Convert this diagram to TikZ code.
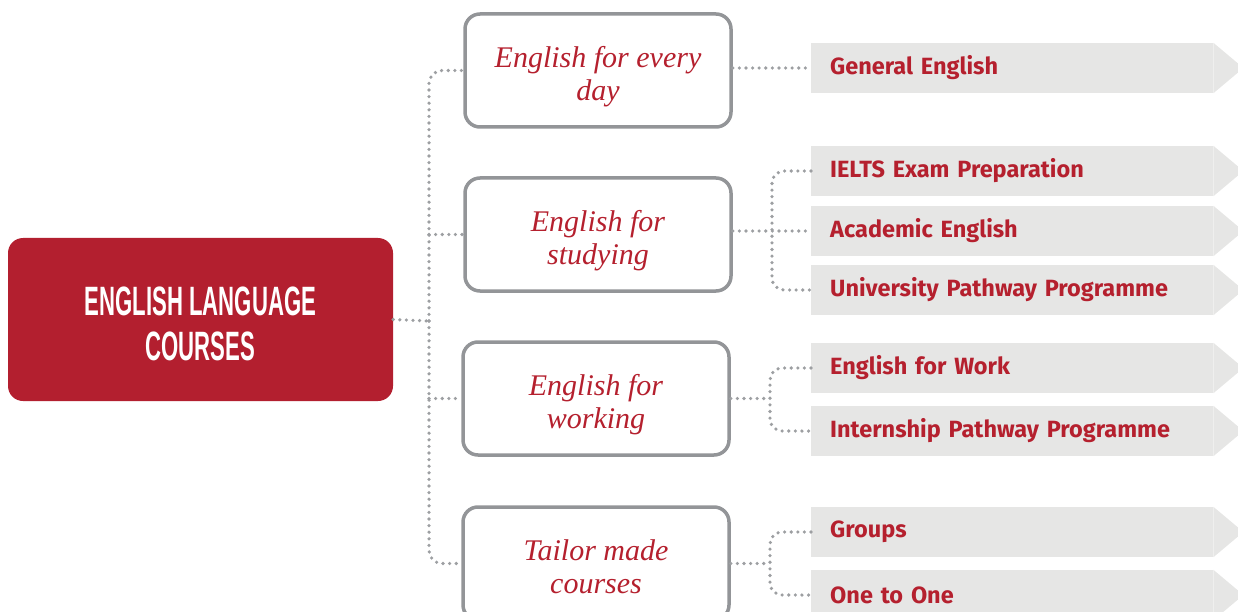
\documentclass[tikz,border=0pt]{standalone}
\usepackage{fontspec}
\usetikzlibrary{calc}
\newfontfamily\condfont[FakeStretch=0.54]{Liberation Sans}
\newfontfamily\tagfont{Fira Sans}
\newfontfamily\boxfont{Liberation Serif}
\definecolor{mainred}{HTML}{B31F2F}
\definecolor{textred}{HTML}{B5202E}
\definecolor{boxgray}{HTML}{939598}
\definecolor{dotgray}{HTML}{9D9FA2}
\definecolor{tagfill}{HTML}{E6E6E5}
\newcommand\twoline[3]{\begin{tabular}{@{}c@{}}\rule{0pt}{#1}#2\\#3\end{tabular}}
\tikzset{
  mainbox/.style={fill=mainred, rounded corners=15pt, minimum width=385pt, minimum height=163pt,
    text=white, font=\condfont\bfseries\fontsize{41}{45}\selectfont, inner sep=0pt},
  midbox/.style={draw=boxgray, line width=3.5pt, rounded corners=15pt, fill=white,
    minimum width=266pt, minimum height=113pt, text=textred,
    font=\boxfont\itshape\fontsize{30}{33}\selectfont, inner sep=0pt},
  tagbox/.style={anchor=west, fill=tagfill, minimum height=50pt, text width=364pt,
    inner xsep=19pt, inner ysep=0pt, align=left, text=textred,
    font=\tagfont\bfseries\fontsize{23.5}{26}\selectfont},
  dotline/.style={draw=dotgray, line width=3.6pt, line cap=round, dash pattern=on 0pt off 6.6pt},
}
\begin{document}
\begin{tikzpicture}[x=1pt,y=-1pt]
\useasboundingbox (0,0) rectangle (1238,612);
% main
\node[mainbox] (main) at (200.5,319.5) {\twoline{49.5pt}{ENGLISH LANGUAGE}{COURSES}};
% middle boxes
\node[midbox] (b1) at (598,70.5) {\twoline{37pt}{English for every}{day}};
\node[midbox] (b2) at (598,234.5) {\twoline{37pt}{English for}{studying}};
\node[midbox] (b3) at (596,398.5) {\twoline{37pt}{English for}{working}};
\node[midbox] (b4) at (596,563.5) {\twoline{37pt}{Tailor made}{courses}};
% tags
\node[tagbox] (g1) at (811,68) {General English};
\node[tagbox] (g2) at (811,171) {IELTS Exam Preparation};
\node[tagbox] (g3) at (811,231) {Academic English};
\node[tagbox] (g4) at (811,290) {University Pathway Programme};
\node[tagbox] (g5) at (811,368) {English for Work};
\node[tagbox] (g6) at (811,431) {Internship Pathway Programme};
\node[tagbox] (g7) at (811,532) {Groups};
\node[tagbox] (g8) at (811,595) {One to One};
\foreach \g in {g1,g2,g3,g4,g5,g6,g7,g8}{
  \fill[tagfill] (\g.north east) -- ($(\g.east)+(30,0)$) -- (\g.south east) -- cycle;
}
% trunk
\coordinate (t) at (429,321);
\draw[dotline] (main.east) -- (t);
\draw[dotline, rounded corners=13pt] (t) |- (b1.west);
\draw[dotline, rounded corners=13pt] (t) |- (b4.west);
\draw[dotline] (b2.west -| t) -- (b2.west);
\draw[dotline] (b3.west -| t) -- (b3.west);
% right side
\draw[dotline] (b1.east |- g1.west) -- (g1.west);
\coordinate (f2) at (772,231);
\draw[dotline] (b2.east |- g3.west) -- (g3.west);
\draw[dotline, rounded corners=12pt] (g2.west) -| (f2) |- (g4.west);
\coordinate (f3) at (770,398.5);
\draw[dotline] (b3.east) -- (f3);
\draw[dotline, rounded corners=12pt] (g5.west) -| (f3) |- (g6.west);
\coordinate (f4) at (770,563.5);
\draw[dotline] (b4.east) -- (f4);
\draw[dotline, rounded corners=12pt] (g7.west) -| (f4) |- (g8.west);
\end{tikzpicture}
\end{document}
